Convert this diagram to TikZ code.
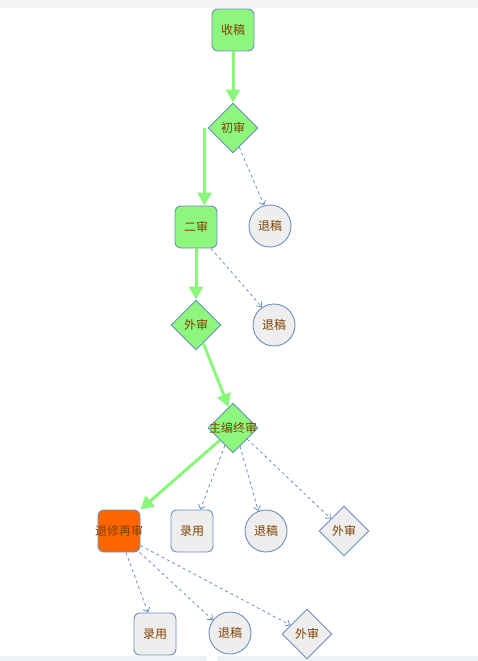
\documentclass[tikz,border=0pt]{standalone}
\usepackage{fontspec}
\newfontfamily\cjk{Noto Sans CJK SC}
\usetikzlibrary{shapes.geometric,arrows.meta}
\definecolor{bordc}{HTML}{6C8EBF}
\definecolor{gfill}{HTML}{8CF77C}
\definecolor{gline}{HTML}{88F77A}
\definecolor{ofill}{HTML}{FF6600}
\definecolor{eefill}{HTML}{EEEEEE}
\definecolor{txtc}{HTML}{804000}
\definecolor{topband}{HTML}{F5F5F5}
\definecolor{botband}{HTML}{EEF2F7}
\tikzset{
  lbl/.style={font=\cjk\fontsize{12}{14}\selectfont, text=txtc, inner sep=0pt},
  boxn/.style={draw=bordc, line width=0.9pt, rectangle, rounded corners=6pt, minimum width=42pt, minimum height=42pt, inner sep=0pt, label={[lbl]center:#1}},
  dian/.style={draw=bordc, line width=0.9pt, diamond, aspect=1, minimum width=50pt, minimum height=50pt, inner sep=0pt, label={[lbl]center:#1}},
  circn/.style={draw=bordc, line width=0.9pt, circle, minimum size=42pt, inner sep=0pt, label={[lbl]center:#1}},
  gedge/.style={draw=gline, line width=3pt, -{Triangle[length=13pt,width=14pt]}, shorten >=0pt},
  dedge/.style={draw=bordc, line width=0.8pt, dash pattern=on 3pt off 3pt, -{Straight Barb[length=4pt,width=7pt]}}
}
\begin{document}
\begin{tikzpicture}[x=1pt,y=-1pt]
\useasboundingbox (0,0) rectangle (478,661);
\fill[topband] (0,0) rectangle (478,8);
\fill[botband] (0,656) rectangle (207,661);
\fill[botband] (217,656) rectangle (478,661);

\node[boxn={收稿}, fill=gfill] (sg) at (233,30) {};
\node[dian={初审}, fill=gfill] (chu) at (233,128) {};
\node[circn={退稿}, fill=eefill] (t1) at (270,226) {};
\node[boxn={二审}, fill=gfill] (er) at (196,227) {};
\node[circn={退稿}, fill=eefill] (t2) at (274,325) {};
\node[dian={外审}, fill=gfill] (wai) at (196,325) {};
\node[dian={主编终审}, fill=gfill] (zb) at (233,428) {};
\node[boxn={退修再审}, fill=ofill] (tx) at (119,531) {};
\node[boxn={录用}, fill=eefill] (ly) at (192,531) {};
\node[circn={退稿}, fill=eefill] (t3) at (266,531) {};
\node[dian={外审}, fill=eefill] (w2) at (344,531) {};
\node[boxn={录用}, fill=eefill] (ly2) at (155,634) {};
\node[circn={退稿}, fill=eefill] (t4) at (230,633) {};
\node[dian={外审}, fill=eefill] (w3) at (307,634) {};

\draw[gedge] (sg.south) -- (chu.north);
\draw[gedge] ([xshift=-3pt]chu.west) -- ([xshift=-3pt]chu.west |- er.north);
\draw[dedge] (chu.-72) -- (t1.106);
\draw[gedge] (er.south) -- (wai.north);
\draw[dedge] (er.-55) -- (t2.124);
\draw[gedge] (wai.-68) -- (zb.102);
\draw[gedge] (zb.-137) -- (tx.north east);
\draw[dedge] (zb.-115) -- (ly.69);
\draw[dedge] (zb.-69) -- (t3.111);
\draw[dedge] (zb.-38) -- (w2.137);
\draw[dedge] (tx.-72) -- (ly2.108);
\draw[dedge] (tx.-46) -- (t4.143);
\draw[dedge] (tx.-34) -- (w3.152);
\end{tikzpicture}
\end{document}
